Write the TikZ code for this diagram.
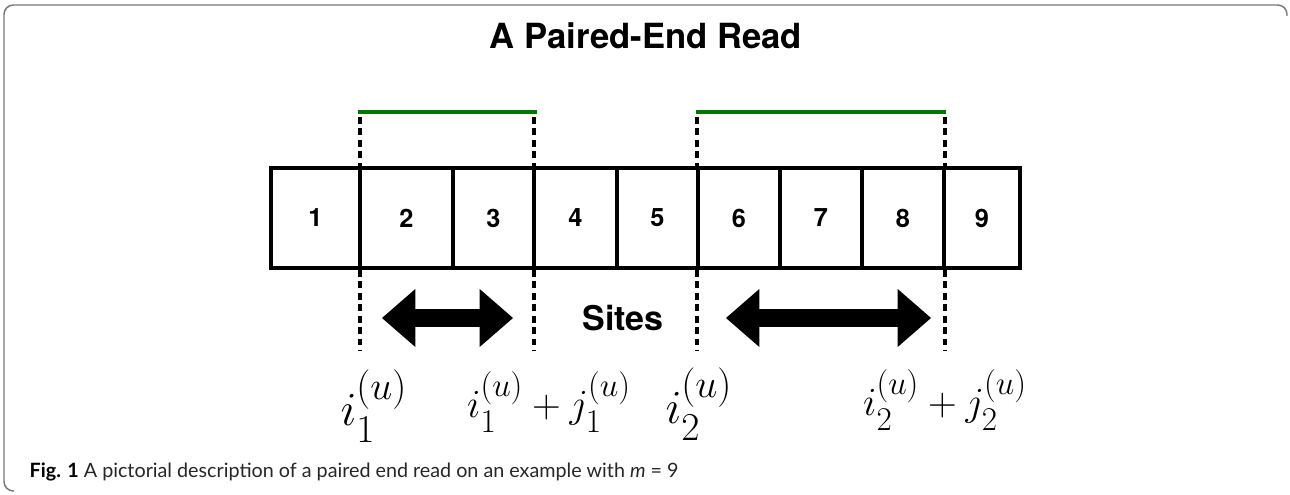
\documentclass[tikz,border=0pt]{standalone}
\usepackage{fontspec}
\setmainfont{Lato}
\newfontfamily\heros{TeX Gyre Heros}
\usepackage{amsmath}
\usepackage{tikz}
\usetikzlibrary{arrows.meta}

\definecolor{readgreen}{RGB}{0,118,0}
\definecolor{framegray}{RGB}{120,120,120}

\tikzset{
    cell/.style={draw, line width=3pt, minimum height=75pt, inner sep=0pt,
        font=\heros\bfseries\fontsize{19}{22}\selectfont},
    readbar/.style={draw=readgreen, line width=3.4pt},
    guide/.style={line width=2.5pt, dash pattern=on 5pt off 3.6pt},
    span/.style={line width=13.5pt,
        {Triangle[length=25pt, width=43.5pt, line width=0pt]}-{Triangle[length=25pt, width=43.5pt, line width=0pt]}},
    biglabel/.style={anchor=base, font=\Huge, scale=1.43, transform shape},
    sumlabel/.style={anchor=base, font=\Huge, scale=1.2, transform shape}
}

\begin{document}
\begin{tikzpicture}[x=0.75pt, y=-0.75pt]
        \useasboundingbox (0,0) rectangle (1290,495);

        % figure frame
        \draw[framegray, line width=1.1pt, rounded corners=7pt]
            (14,491) -- (4,491) -- (4,5) -- (1287,5) -- (1287,16);

        \node[font=\heros\bfseries\fontsize{26}{30}\selectfont] at (646,36) (title) {A Paired-End Read};

        % the nine sites
        \foreach \l/\r [count=\n] in {271/360, 360/453, 453/534, 534/617, 617/698, 698/780, 780/862, 862/944, 944/1020}
            \node[cell, minimum width={(\r-\l)*0.75pt}] at ({(\l+\r)/2}, 218) (c\n) {\n};

        % the two ends of the read
        \coordinate (r1s) at (358,112);
        \coordinate (r1e) at (537,112);
        \coordinate (r2s) at (696,112);
        \coordinate (r2e) at (946,112);
        \draw[readbar] (r1s) -- (r1e);
        \draw[readbar] (r2s) -- (r2e);

        \foreach \x in {360,534,697,945} {
            \draw[guide] (\x,117) -- (\x,166);
            \draw[guide] (\x,270) -- (\x,351);
        }

        \coordinate (a1l) at (382,318);
        \coordinate (a1r) at (513,318);
        \coordinate (a2l) at (726,318);
        \coordinate (a2r) at (931,318);
        \draw[span] (a1l) -- (a1r);
        \draw[span] (a2l) -- (a2r);

        \node[font=\heros\bfseries\fontsize{25.5}{30}\selectfont] at (623,318) (sites) {Sites};

        \node[biglabel] at (374,426) (i1) {$i_1^{(u)}$};
        \node[sumlabel] at (549,418) (j1) {$i_1^{(u)} + j_1^{(u)}$};
        \node[biglabel] at (699,424) (i2) {$i_2^{(u)}$};
        \node[sumlabel] at (945,416) (j2) {$i_2^{(u)} + j_2^{(u)}$};

        \node[anchor=base west, font=\fontsize{14.8}{17}\selectfont, text=black!85] at (25,478) (caption)
            {\textbf{\color{black}Fig. 1} A pictorial description of a paired end read on an example with \textit{m}~=~9};
    \end{tikzpicture}
\end{document}
